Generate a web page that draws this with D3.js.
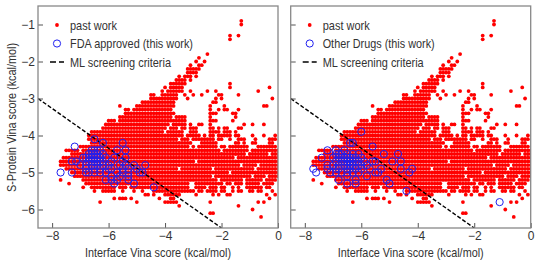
<!DOCTYPE html>
<html>
<head>
<meta charset="utf-8">
<script src="https://cdn.jsdelivr.net/npm/d3@7"></script>
<style>
  html, body { margin: 0; background: #fff; }
  svg { display: block; }
  text { font-family: "Liberation Sans", Arial, sans-serif; fill: #333; }
</style>
</head>
<body>
<script>
"use strict";

const width = 540;
const height = 266;

const xTicks = [-8, -6, -4, -2, 0];
const yTicks = [-1, -2, -3, -4, -5, -6];
const criteriaLine = [[-8.5, -3], [-2, -6.5]];

// past work, one row per S-protein score: x ranges (from, to) on the 0.1 grid
const pastRows = [
  [-0.9, -1.3, -1.3],
  [-1.0, -1.3, -1.3],
  [-1.3, -1.7, -1.7, -1.4, -1.4],
  [-1.4, -1.7, -1.7],
  [-1.8, -2.5, -2.5],
  [-1.9, -2.8, -2.8],
  [-2.0, -2.9, -2.9, -2.6, -2.6],
  [-2.1, -3.1, -3.1, -2.8, -2.7],
  [-2.2, -3.2, -2.8],
  [-2.3, -3.2, -3.0, -2.9, -2.9],
  [-2.4, -3.5, -3.5, -3.3, -3.1, -2.9, -2.9],
  [-2.5, -3.6, -3.3, -3.1, -3.1],
  [-2.6, -3.8, -3.3, -1.7, -1.7],
  [-2.7, -4.0, -4.0, -3.8, -3.4, -1.7, -1.7, -0.3, -0.3],
  [-2.8, -4.1, -4.1, -3.9, -3.4, -3.1, -3.1, -2.5, -2.5, -2.2, -2.2, -0.7, -0.7],
  [-2.9, -4.5, -4.4, -4.1, -3.6, -3.3, -3.3, -3.0, -3.0, -2.7, -2.7, -2.1, -2.0, -1.4, -1.4],
  [-3.0, -4.5, -3.6, -3.2, -3.2, -2.2, -2.2, -2.0, -2.0, -0.2, -0.2],
  [-3.1, -4.8, -3.7, -2.3, -2.2],
  [-3.2, -5.6, -5.6, -5.0, -3.7, -2.4, -2.4, -1.9, -1.9, -0.5, -0.4],
  [-3.3, -5.4, -5.3, -5.1, -3.8, -2.4, -2.4, -2.1, -2.1, -1.9, -1.8, -1.4, -1.4],
  [-3.4, -5.4, -3.7, -2.4, -2.2, -1.6, -1.5],
  [-3.5, -5.6, -3.8, -3.6, -3.3, -2.4, -2.4, -1.5, -1.5],
  [-3.6, -6.0, -5.8, -5.6, -3.7, -3.6, -3.3, -2.4, -2.2, -1.6, -1.6],
  [-3.7, -6.1, -3.9, -3.7, -3.3, -3.1, -3.1, -2.8, -2.7, -2.4, -2.4, -1.2, -1.2, -0.9, -0.9, -0.5, -0.5],
  [-3.8, -6.2, -4.0, -3.8, -3.6, -3.4, -3.3, -3.1, -2.9, -2.4, -2.3, -2.1, -2.1, -1.9, -1.8, -1.4, -1.3],
  [-3.9, -6.6, -4.1, -3.9, -3.4, -3.1, -2.9, -2.4, -2.1, -1.9, -1.7, -1.5, -1.5],
  [-4.0, -6.7, -3.4, -3.2, -2.8, -2.6, -2.6, -2.4, -2.3, -2.1, -1.7, -1.5, -1.4, -0.9, -0.9, -0.5, -0.5, -0.1, -0.1],
  [-4.1, -6.7, -3.6, -3.4, -3.2, -3.0, -2.3, -2.1, -2.0, -1.7, -1.7, -1.4, -1.2, -0.8, -0.8, -0.3, -0.1],
  [-4.2, -6.6, -3.5, -3.4, -3.1, -2.7, -2.2, -1.5, -1.4, -1.2, -1.2, -0.9, -0.8, -0.3, -0.2],
  [-4.3, -7.0, -3.2, -3.0, -3.0, -2.8, -2.2, -2.0, -1.9, -1.7, -1.1, -0.7, -0.1],
  [-4.4, -7.5, -7.1, -6.9, -2.1, -1.9, -1.1, -0.9, 0],
  [-4.5, -7.3, -1.2, -1.0, -0.4, -0.2, 0],
  [-4.6, -7.6, -1.6, -1.4, 0],
  [-4.7, -7.7, -3.0, -2.8, 0],
  [-4.8, -7.7, -1.4, -1.2, -0.8, -0.6, 0],
  [-4.9, -7.5, -3.6, -3.4, -2.4, -2.2, -0.9, -0.7, 0],
  [-5.0, -7.3, -3.3, -3.2, -1.8, -1.6, 0],
  [-5.1, -7.2, -2.4, -2.2, -1.0, -0.8, -0.5, -0.3, 0],
  [-5.2, -7.7, -7.7, -6.9, -3.1, -3.0, -2.2, -2.0, -1.3, -1.1, -0.6, -0.4, -0.1],
  [-5.3, -7.4, -7.4, -6.8, -3.2, -2.9, -2.0, -1.8, -1.7, -1.5, -1.3, -1.1, -0.7, -0.5, -0.2],
  [-5.4, -6.9, -6.9, -6.6, -5.8, -5.6, -5.4, -5.2, -3.2, -2.9, -2.6, -2.4, -2.2, -2.0, -1.9, -1.6, -1.6, -1.4, -1.4, -1.1, -0.6, -0.4, -0.3],
  [-5.5, -6.5, -6.5, -6.2, -5.8, -5.5, -5.5, -5.1, -5.1, -4.8, -4.8, -4.4, -3.0, -2.8, -2.7, -2.5, -2.2, -2.0, -1.9, -1.6, -1.6, -1.4, -1.3, -1.0, -0.9, -0.7, -0.6, -0.2, -0.2],
  [-5.6, -4.7, -4.6, -4.4, -4.4, -4.0, -3.5, -2.9, -2.9, -2.3, -2.3, -2.1, -2.1, -1.8, -1.7, -0.4, -0.4, -0.1, -0.1],
  [-5.7, -5.8, -5.8, -5.6, -5.4, -5.2, -5.2, -4.2, -4.2, -3.8, -3.7, -0.3, -0.3],
  [-5.8, -6.3, -6.3, -5.0, -5.0, -4.0, -3.6, -2.4, -2.4, -0.7, -0.7, -0.5, -0.5],
  [-5.9, -3.5, -3.5, -1.4, -1.4],
  [-6.0, -0.9, -0.9],
  [-6.1, -2.4, -2.3],
  [-6.2, -0.6, -0.6]
];

const fdaDrugs = [
  [-7.7, -5.0], [-7.3, -5.0], [-7.2, -4.3], [-7.3, -4.7], [-7.15, -4.7], [-7.0, -4.8], [-6.9, -4.6],
  [-6.5, -4.1], [-6.2, -4.2], [-5.5, -4.2], [-5.7, -4.4], [-5.4, -4.4], [-4.7, -4.8], [-4.4, -5.4],
  [-5.1, -5.3], [-5.3, -5.2], [-5.8, -5.3], [-5.9, -5.2], [-6.1, -5.2], [-5.7, -5.2], [-4.9, -5.0],
  [-4.8, -5.0], [-5.0, -4.9],
  [-6.6, -4.4], [-6.5, -4.4], [-6.4, -4.4], [-6.3, -4.4],
  [-6.7, -4.5], [-6.6, -4.5], [-6.5, -4.5], [-6.4, -4.5], [-6.2, -4.5],
  [-6.8, -4.6], [-6.7, -4.6], [-6.6, -4.6], [-6.5, -4.6], [-6.4, -4.6], [-6.3, -4.6], [-6.1, -4.6], [-5.8, -4.6], [-5.4, -4.6],
  [-6.7, -4.7], [-6.6, -4.7], [-6.5, -4.7], [-6.4, -4.7], [-6.3, -4.7], [-6.2, -4.7], [-5.9, -4.7], [-5.5, -4.7],
  [-6.8, -4.8], [-6.6, -4.8], [-6.5, -4.8], [-6.4, -4.8], [-6.2, -4.8], [-6.0, -4.8], [-5.6, -4.8], [-5.4, -4.8], [-5.1, -4.8],
  [-6.8, -4.9], [-6.5, -4.9], [-6.3, -4.9], [-6.0, -4.9], [-5.9, -4.9], [-5.5, -4.9], [-5.3, -4.9],
  [-6.8, -5.0], [-6.5, -5.0], [-6.3, -5.0], [-6.1, -5.0], [-5.7, -5.0], [-5.5, -5.0], [-5.3, -5.0],
  [-6.7, -5.0], [-5.9, -5.1], [-5.6, -5.1], [-5.3, -5.1]
];

const otherDrugs = [
  [-6.0, -3.9], [-6.4, -4.2], [-6.3, -4.2], [-5.6, -4.3], [-5.2, -4.5], [-4.7, -4.5], [-4.9, -4.7],
  [-4.6, -4.7], [-4.2, -4.9], [-4.3, -5.0], [-4.6, -4.9], [-4.4, -5.5], [-7.7, -4.9], [-7.6, -5.0],
  [-7.4, -4.6], [-7.2, -4.4], [-7.2, -4.8], [-7.2, -4.9], [-7.1, -5.0], [-6.8, -5.2], [-6.5, -5.3],
  [-6.2, -5.3], [-6.2, -5.2], [-6.5, -5.1], [-5.8, -5.1], [-5.5, -5.0], [-5.3, -4.9], [-5.1, -5.2],
  [-5.0, -5.3], [-5.5, -4.7], [-5.6, -4.7], [-6.9, -4.4], [-6.6, -4.4], [-6.9, -5.0], [-6.9, -4.9],
  [-1.1, -5.8], [-5.4, -5.0], [-5.7, -4.9], [-5.8, -4.8], [-6.1, -5.0], [-6.3, -5.0],
  [-6.9, -4.5], [-6.8, -4.5], [-6.7, -4.5], [-6.5, -4.5], [-6.3, -4.5], [-6.1, -4.5],
  [-7.0, -4.6], [-6.8, -4.6], [-6.7, -4.6], [-6.6, -4.6], [-6.5, -4.6], [-6.4, -4.6], [-6.3, -4.6], [-6.2, -4.6], [-6.0, -4.6],
  [-6.9, -4.7], [-6.7, -4.7], [-6.6, -4.7], [-6.5, -4.7], [-6.4, -4.7], [-6.3, -4.7], [-6.2, -4.7], [-6.1, -4.7], [-5.9, -4.7],
  [-7.0, -4.8], [-6.8, -4.8], [-6.6, -4.8], [-6.5, -4.8], [-6.4, -4.8], [-6.3, -4.8], [-6.1, -4.8], [-6.0, -4.8],
  [-6.8, -4.9], [-6.5, -4.9], [-6.4, -4.9], [-6.2, -4.9], [-6.0, -4.9],
  [-6.7, -5.0], [-6.5, -5.0]
];

// turn the row ranges into points
const pastWork = [];
pastRows.forEach(row => {
  for (let i = 1; i < row.length; i += 2) {
    const steps = Math.round((row[i + 1] - row[i]) * 10);
    for (let k = 0; k <= steps; k++) {
      pastWork.push([row[i] + k / 10, row[0]]);
    }
  }
});

const svg = d3.select("body").append("svg")
  .attr("width", width)
  .attr("height", height);

const y = d3.scaleLinear().domain([-0.5, -6.5]).range([6, 228]);

function panel(left, right, drugs, drugLabel, drugWidth, showY, id) {
  const x = d3.scaleLinear().domain([-8.5, 0]).range([left, right]);
  const g = svg.append("g");

  g.append("clipPath").attr("id", id)
    .append("rect")
    .attr("x", left).attr("y", 6)
    .attr("width", right - left).attr("height", 222);

  const plot = g.append("g").attr("clip-path", "url(#" + id + ")");

  plot.selectAll(".past")
    .data(pastWork)
    .enter()
    .append("circle")
    .attr("class", "past")
    .attr("cx", d => x(d[0]))
    .attr("cy", d => y(d[1]))
    .attr("r", 1.9)
    .attr("fill", "#ff0000");

  plot.append("path")
    .attr("d", d3.line().x(d => x(d[0])).y(d => y(d[1]))(criteriaLine))
    .attr("fill", "none")
    .attr("stroke", "#000")
    .attr("stroke-width", 1.4)
    .attr("stroke-dasharray", "4,2");

  plot.selectAll(".drug")
    .data(drugs)
    .enter()
    .append("circle")
    .attr("class", "drug")
    .attr("cx", d => x(d[0]))
    .attr("cy", d => y(d[1]))
    .attr("r", 3.6)
    .attr("fill", "none")
    .attr("stroke", "#2020f0")
    .attr("stroke-width", 1);

  const xAxis = d3.axisBottom(x)
    .tickValues(xTicks)
    .tickSizeInner(-5)
    .tickSizeOuter(0)
    .tickPadding(3)
    .tickFormat(d => (d < 0 ? "\u2212" + Math.abs(d) : d));
  const yAxis = d3.axisLeft(y)
    .tickValues(yTicks)
    .tickSizeInner(-5)
    .tickSizeOuter(0)
    .tickPadding(3)
    .tickFormat(showY ? d => "\u2212" + Math.abs(d) : "");

  const ax = g.append("g").attr("transform", "translate(0,228)").call(xAxis);
  const ay = g.append("g").attr("transform", "translate(" + left + ",0)").call(yAxis);
  [ax, ay].forEach(a => {
    a.select(".domain").remove();
    a.selectAll("line").attr("stroke", "#555").attr("stroke-width", 1);
    a.selectAll("text").style("font-size", "12px").style("fill", "#333");
  });

  g.append("rect")
    .attr("x", left).attr("y", 6)
    .attr("width", right - left).attr("height", 222)
    .attr("fill", "none")
    .attr("stroke", "#888")
    .attr("stroke-width", 1.3);

  // legend
  const legX = left + 19;
  const txtX = left + 32;
  g.append("circle").attr("cx", legX).attr("cy", 25).attr("r", 1.9).attr("fill", "#ff0000");
  g.append("circle").attr("cx", legX).attr("cy", 43.5).attr("r", 3.6)
    .attr("fill", "none").attr("stroke", "#2020f0").attr("stroke-width", 1);
  g.append("line")
    .attr("x1", legX - 7).attr("x2", legX + 7).attr("y1", 62).attr("y2", 62)
    .attr("stroke", "#000").attr("stroke-width", 1.4).attr("stroke-dasharray", "6,3");

  [["past work", 47], [drugLabel, drugWidth], ["ML screening criteria", 101]].forEach((t, i) => {
    g.append("text")
      .attr("x", txtX)
      .attr("y", 25 + i * 18.7 + 4.5)
      .attr("textLength", t[1])
      .attr("lengthAdjust", "spacingAndGlyphs")
      .style("font-size", "13px")
      .text(t[0]);
  });

  g.append("text")
    .attr("x", (left + right) / 2)
    .attr("y", 257)
    .attr("text-anchor", "middle")
    .attr("textLength", 146)
    .attr("lengthAdjust", "spacingAndGlyphs")
    .style("font-size", "13px")
    .text("Interface Vina score (kcal/mol)");
}

panel(38, 278, fdaDrugs, "FDA approved (this work)", 123, true, "clip-a");
panel(290.7, 530.7, otherDrugs, "Other Drugs (this work)", 112, false, "clip-b");

svg.append("text")
  .attr("transform", "translate(16,117.5) rotate(-90)")
  .attr("text-anchor", "middle")
  .attr("textLength", 149)
  .attr("lengthAdjust", "spacingAndGlyphs")
  .style("font-size", "13px")
  .text("S-Protein Vina score (kcal/mol)");
</script>
</body>
</html>
